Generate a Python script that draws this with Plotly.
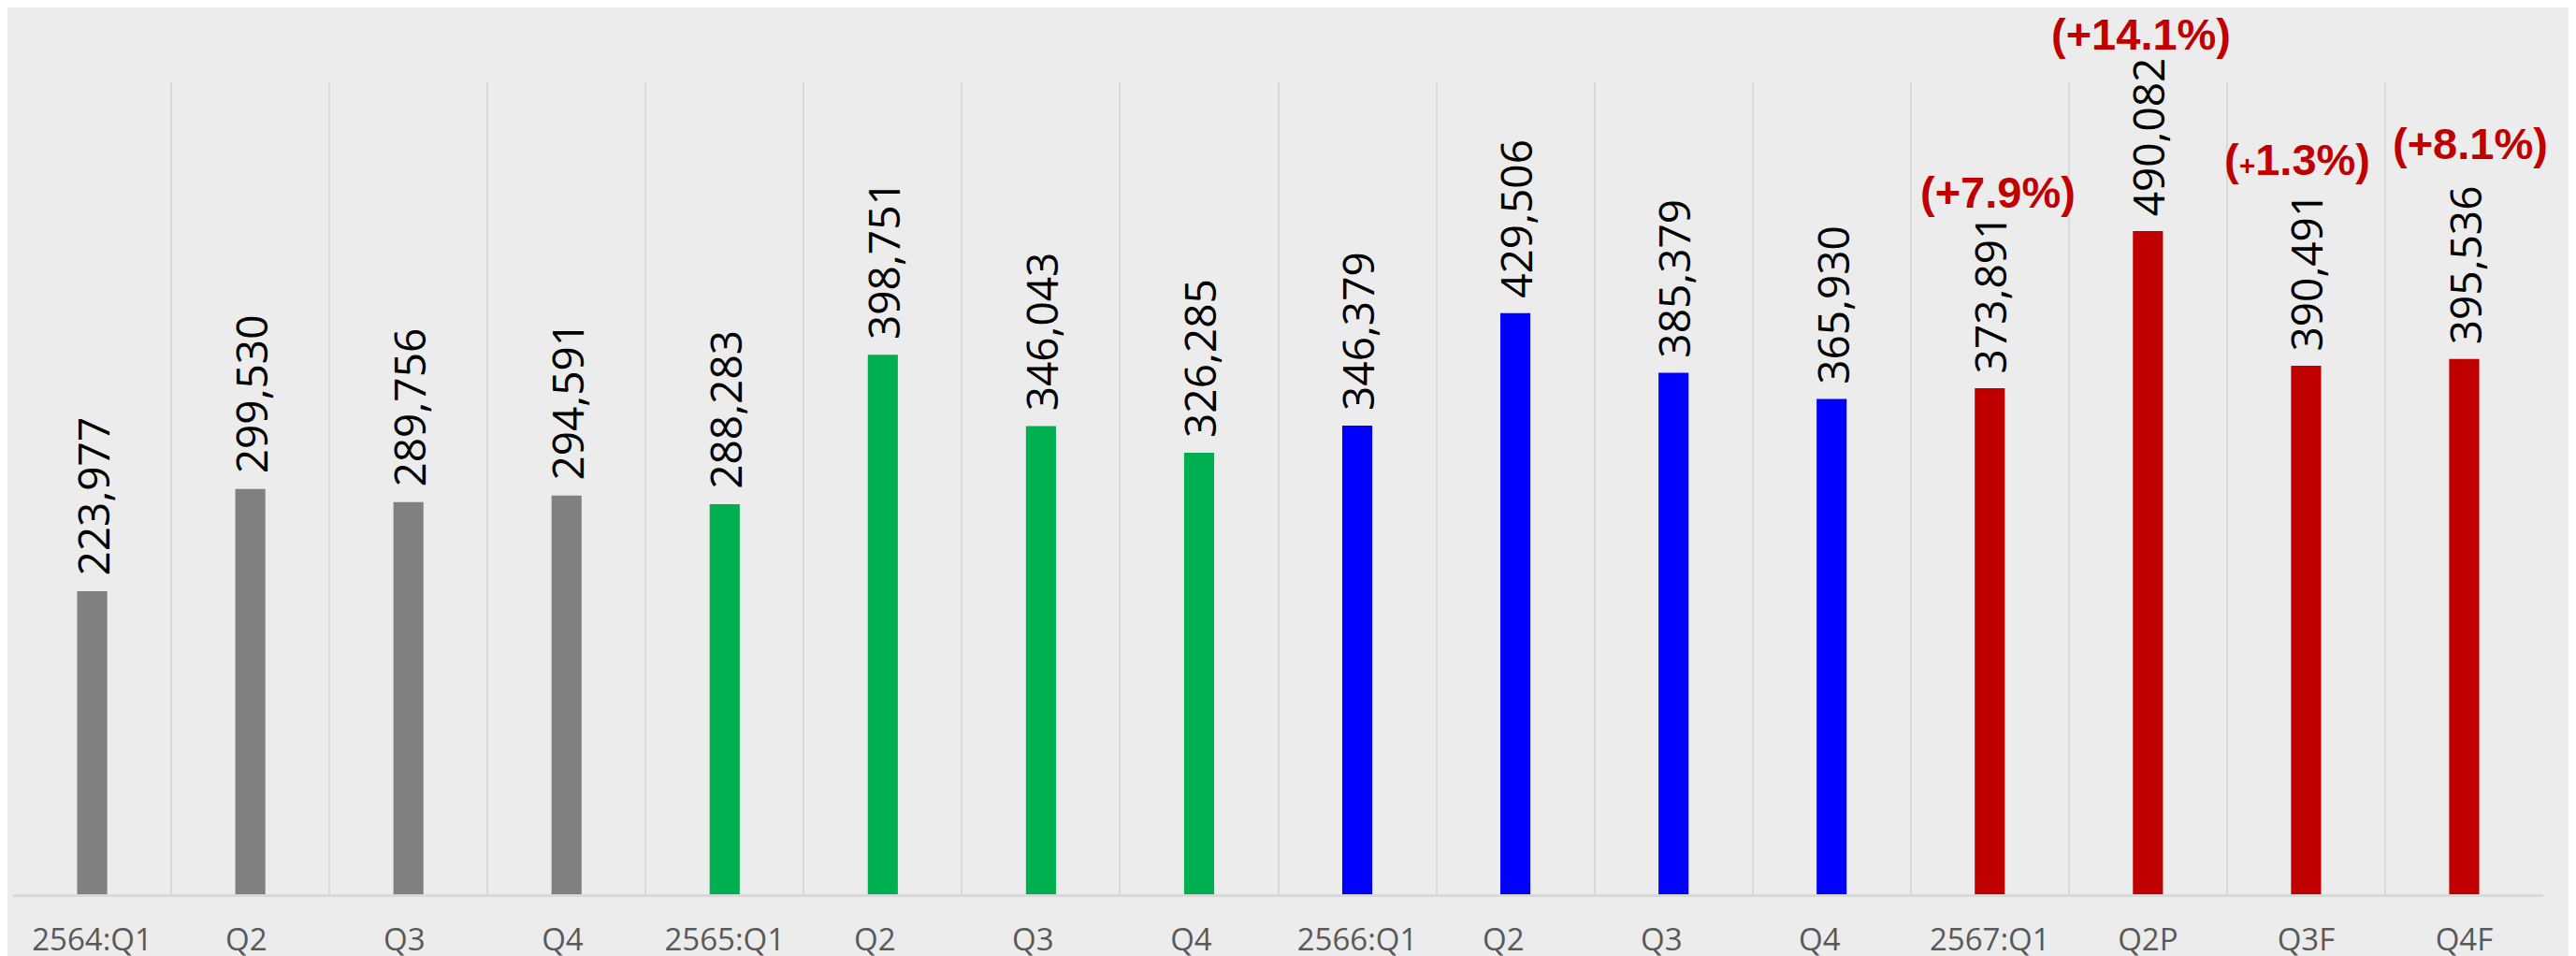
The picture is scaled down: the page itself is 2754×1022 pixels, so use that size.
import plotly.graph_objects as go

categories = ["2564:Q1", "Q2 ", "Q3 ", "Q4 ", "2565:Q1", "Q2  ", "Q3  ", "Q4  ",
              "2566:Q1", "Q2   ", "Q3   ", "Q4   ", "2567:Q1", "Q2P", "Q3F", "Q4F"]
values = [223977, 299530, 289756, 294591, 288283, 398751, 346043, 326285,
          346379, 429506, 385379, 365930, 373891, 490082, 390491, 395536]
bar_colors = ["#808080"] * 4 + ["#00B050"] * 4 + ["#0000FF"] * 4 + ["#C00000"] * 4

growth_labels = ["(+7.9%)", "(+14.1%)", "(<span style='font-size:30px'>+</span>1.3%)", "(+8.1%)"]
growth_cats = ["2567:Q1", "Q2P", "Q3F", "Q4F"]
growth_y = [0.865, 1.059, 0.905, 0.925]
growth_dx = [9, -7, -9, 7]

fig = go.Figure()
fig.add_trace(go.Bar(
    x=categories, y=values,
    marker=dict(color=bar_colors, line=dict(width=0)),
    width=0.19,
    hoverinfo="skip",
))

for cat, v in zip(categories, values):
    fig.add_annotation(x=cat, y=v, xref="x", yref="y", text=f"{v:,}",
                       showarrow=False, textangle=-90,
                       xanchor="center", yanchor="bottom", yshift=14,
                       font=dict(family="Open Sans", size=46, color="#000000"))

for lab, cat, yy, dx in zip(growth_labels, growth_cats, growth_y, growth_dx):
    fig.add_annotation(x=cat, y=yy, xref="x", yref="paper", text=lab,
                       showarrow=False, xanchor="center", yanchor="middle", xshift=dx,
                       font=dict(family="Liberation Sans", size=47, color="#C00000", weight="bold"))

fig.update_layout(
    width=2754, height=1022,
    paper_bgcolor="#ECECEC", plot_bgcolor="#ECECEC",
    margin=dict(l=6, r=43, t=80, b=74, autoexpand=False),
    showlegend=False,
    xaxis=dict(
        type="category",
        tickson="boundaries",
        showgrid=True, gridcolor="#D9D9D9", gridwidth=1.5,
        showline=True, linecolor="#D9D9D9", linewidth=3,
        ticks="",
        ticklabelstandoff=17,
        tickfont=dict(family="Open Sans", size=33, color="#595959"),
        automargin=False,
        range=[-0.5, 15.5],
    ),
    yaxis=dict(
        range=[0, 600000],
        showgrid=False, zeroline=False, showticklabels=False, showline=False,
        automargin=False,
    ),
)

fig.write_html("out.html")
